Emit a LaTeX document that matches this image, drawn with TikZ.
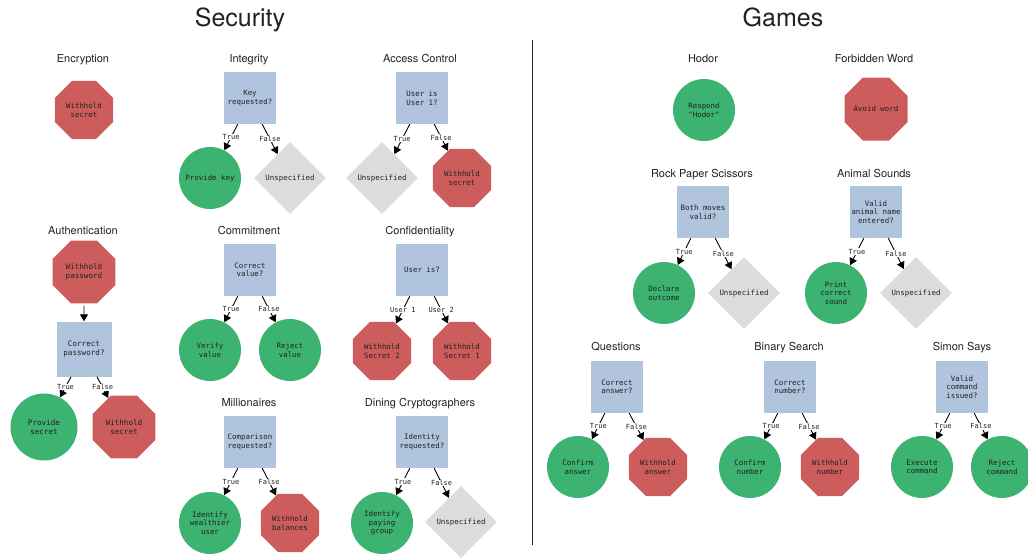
\documentclass[tikz,border=0pt]{standalone}
\usepackage{fontspec}
\setmainfont{TeX Gyre Heros}
\newfontfamily\mono{DejaVu Sans Mono}
\usetikzlibrary{shapes.geometric,arrows.meta}
\definecolor{stopred}{HTML}{CD5C5C}
\definecolor{gogreen}{HTML}{3CB371}
\definecolor{askblue}{HTML}{B0C4DE}
\definecolor{nogray}{HTML}{DCDCDC}
\definecolor{ink}{HTML}{222222}
\tikzset{
	heading/.style={font=\fontsize{11}{13}\selectfont, text=ink, text height=8pt, text depth=0pt},
	bigheading/.style={font=\fontsize{25}{30}\selectfont, text=ink, text height=18pt, text depth=0pt},
	shp/.style={inner sep=0pt, align=center, text=ink, font=\mono\fontsize{7.4}{8.5}\selectfont},
	ask/.style={shp, rectangle, fill=askblue, minimum size=52pt},
	halt/.style={shp, regular polygon, regular polygon sides=8, fill=stopred, minimum size=63pt},
	yes/.style={shp, circle, fill=gogreen, minimum size=62pt},
	unsp/.style={shp, diamond, fill=nogray, minimum size=72pt},
	branch/.style={-{Triangle[length=7pt,width=8pt]}, line width=0.9pt},
	lbl/.style={fill=white, inner sep=0.6pt, text=ink, font=\mono\fontsize{7}{8}\selectfont}
}
\begin{document}
\begin{tikzpicture}[x=1pt,y=-1pt]
	\useasboundingbox (0,0) rectangle (1028,558);
	\node[bigheading] (sec) at (240,17) {Security};
	\node[bigheading] (gam) at (783,17) {Games};
	\draw[line width=0.8pt, ink] (532,40) -- (532,545);
	%security
	\node[heading] (t1) at (83,58) {Encryption};
	\node[halt] (enc) at (84,110) {Withhold\\secret};
	
	\node[heading] (t2) at (249,58) {Integrity};
	\node[ask] (int0) at (250,98) {Key\\requested?};
	\node[yes] (int1) at (210,178) {Provide key};
	\node[unsp] (int2) at (290,178) {Unspecified};
	
	\node[heading] (t3) at (420,58) {Access Control};
	\node[ask] (acc0) at (422,98) {User is\\User 1?};
	\node[unsp] (acc1) at (382,178) {Unspecified};
	\node[halt] (acc2) at (462,178) {Withhold\\secret};
	
	\node[heading] (t4) at (83,230) {Authentication};
	\node[halt, minimum size=68pt, font=\mono\fontsize{7.6}{9}\selectfont] (aut) at (84,272) {Withhold\\password};
	\node[ask, minimum size=55pt, font=\mono\fontsize{7.6}{9}\selectfont] (aut0) at (84,349) {Correct\\password?};
	\node[yes, minimum size=67pt, font=\mono\fontsize{7.6}{9}\selectfont] (aut1) at (44,427) {Provide\\secret};
	\node[halt, minimum size=68pt, font=\mono\fontsize{7.6}{9}\selectfont] (aut2) at (124,427) {Withhold\\secret};
	\draw[branch, shorten <=2pt] (aut) -- (aut0);
	
	\node[heading] (t5) at (249,230) {Commitment};
	\node[ask] (com0) at (250,270) {Correct\\value?};
	\node[yes] (com1) at (210,350) {Verify\\value};
	\node[yes] (com2) at (290,350) {Reject\\value};
	
	\node[heading] (t6) at (420,230) {Confidentiality};
	\node[ask] (con0) at (422,270) {User is?};
	\node[halt] (con1) at (382,351) {Withhold\\Secret 2};
	\node[halt] (con2) at (462,351) {Withhold\\Secret 1};
	
	\node[heading] (t7) at (249,402) {Millionaires};
	\node[ask] (mil0) at (250,442) {Comparison\\requested?};
	\node[yes] (mil1) at (210,523) {Identify\\wealthier\\user};
	\node[halt] (mil2) at (290,523) {Withhold\\balances};
	
	\node[heading] (t8) at (420,402) {Dining Cryptographers};
	\node[ask] (din0) at (422,442) {Identity\\requested?};
	\node[yes] (din1) at (382,523) {Identify\\paying\\group};
	\node[unsp] (din2) at (461,522) {Unspecified};
	
	%games
	\node[heading] (t9) at (703,58) {Hodor};
	\node[yes] (hod) at (704,110) {Respond\\"Hodor"};
	
	\node[heading] (t10) at (874,58) {Forbidden Word};
	\node[halt] (frb) at (876,109) {Avoid word};
	
	\node[heading] (t11) at (702,173) {Rock Paper Scissors};
	\node[ask] (rps0) at (703,212) {Both moves\\valid?};
	\node[yes] (rps1) at (664,293) {Declare\\outcome};
	\node[unsp] (rps2) at (744,293) {Unspecified};
	
	\node[heading] (t12) at (874,173) {Animal Sounds};
	\node[ask] (ani0) at (876,212) {Valid\\animal name\\entered?};
	\node[yes] (ani1) at (836,293) {Print\\correct\\sound};
	\node[unsp] (ani2) at (916,293) {Unspecified};
	
	\node[heading] (t13) at (616,346) {Questions};
	\node[ask] (que0) at (617,387) {Correct\\answer?};
	\node[yes] (que1) at (578,467) {Confirm\\answer};
	\node[halt] (que2) at (658,467) {Withhold\\answer};
	
	\node[heading] (t14) at (789,346) {Binary Search};
	\node[ask] (bin0) at (790,387) {Correct\\number?};
	\node[yes] (bin1) at (750,467) {Confirm\\number};
	\node[halt] (bin2) at (830,467) {Withhold\\number};
	
	\node[heading] (t15) at (962,346) {Simon Says};
	\node[ask] (sim0) at (962,387) {Valid\\command\\issued?};
	\node[yes] (sim1) at (922,467) {Execute\\command};
	\node[yes] (sim2) at (1002,467) {Reject\\command};
	
	\foreach \from/\to/\lab in {int0.-115/int1/True,int0.-65/int2/False,acc0.-115/acc1/True,acc0.-65/acc2/False,
		aut0.-115/aut1/True,aut0.-65/aut2/False,com0.-115/com1/True,com0.-65/com2/False,
		con0.-115/con1/User 1,con0.-65/con2/User 2,mil0.-115/mil1/True,mil0.-65/mil2/False,
		din0.-115/din1/True,din0.-65/din2/False,rps0.-115/rps1/True,rps0.-65/rps2/False,
		ani0.-115/ani1/True,ani0.-65/ani2/False,que0.-115/que1/True,que0.-65/que2/False,
		bin0.-115/bin1/True,bin0.-65/bin2/False,sim0.-115/sim1/True,sim0.-65/sim2/False}
	\draw[branch]  (\from) -- node[lbl] {\lab} (\to);
\end{tikzpicture}
\end{document}
